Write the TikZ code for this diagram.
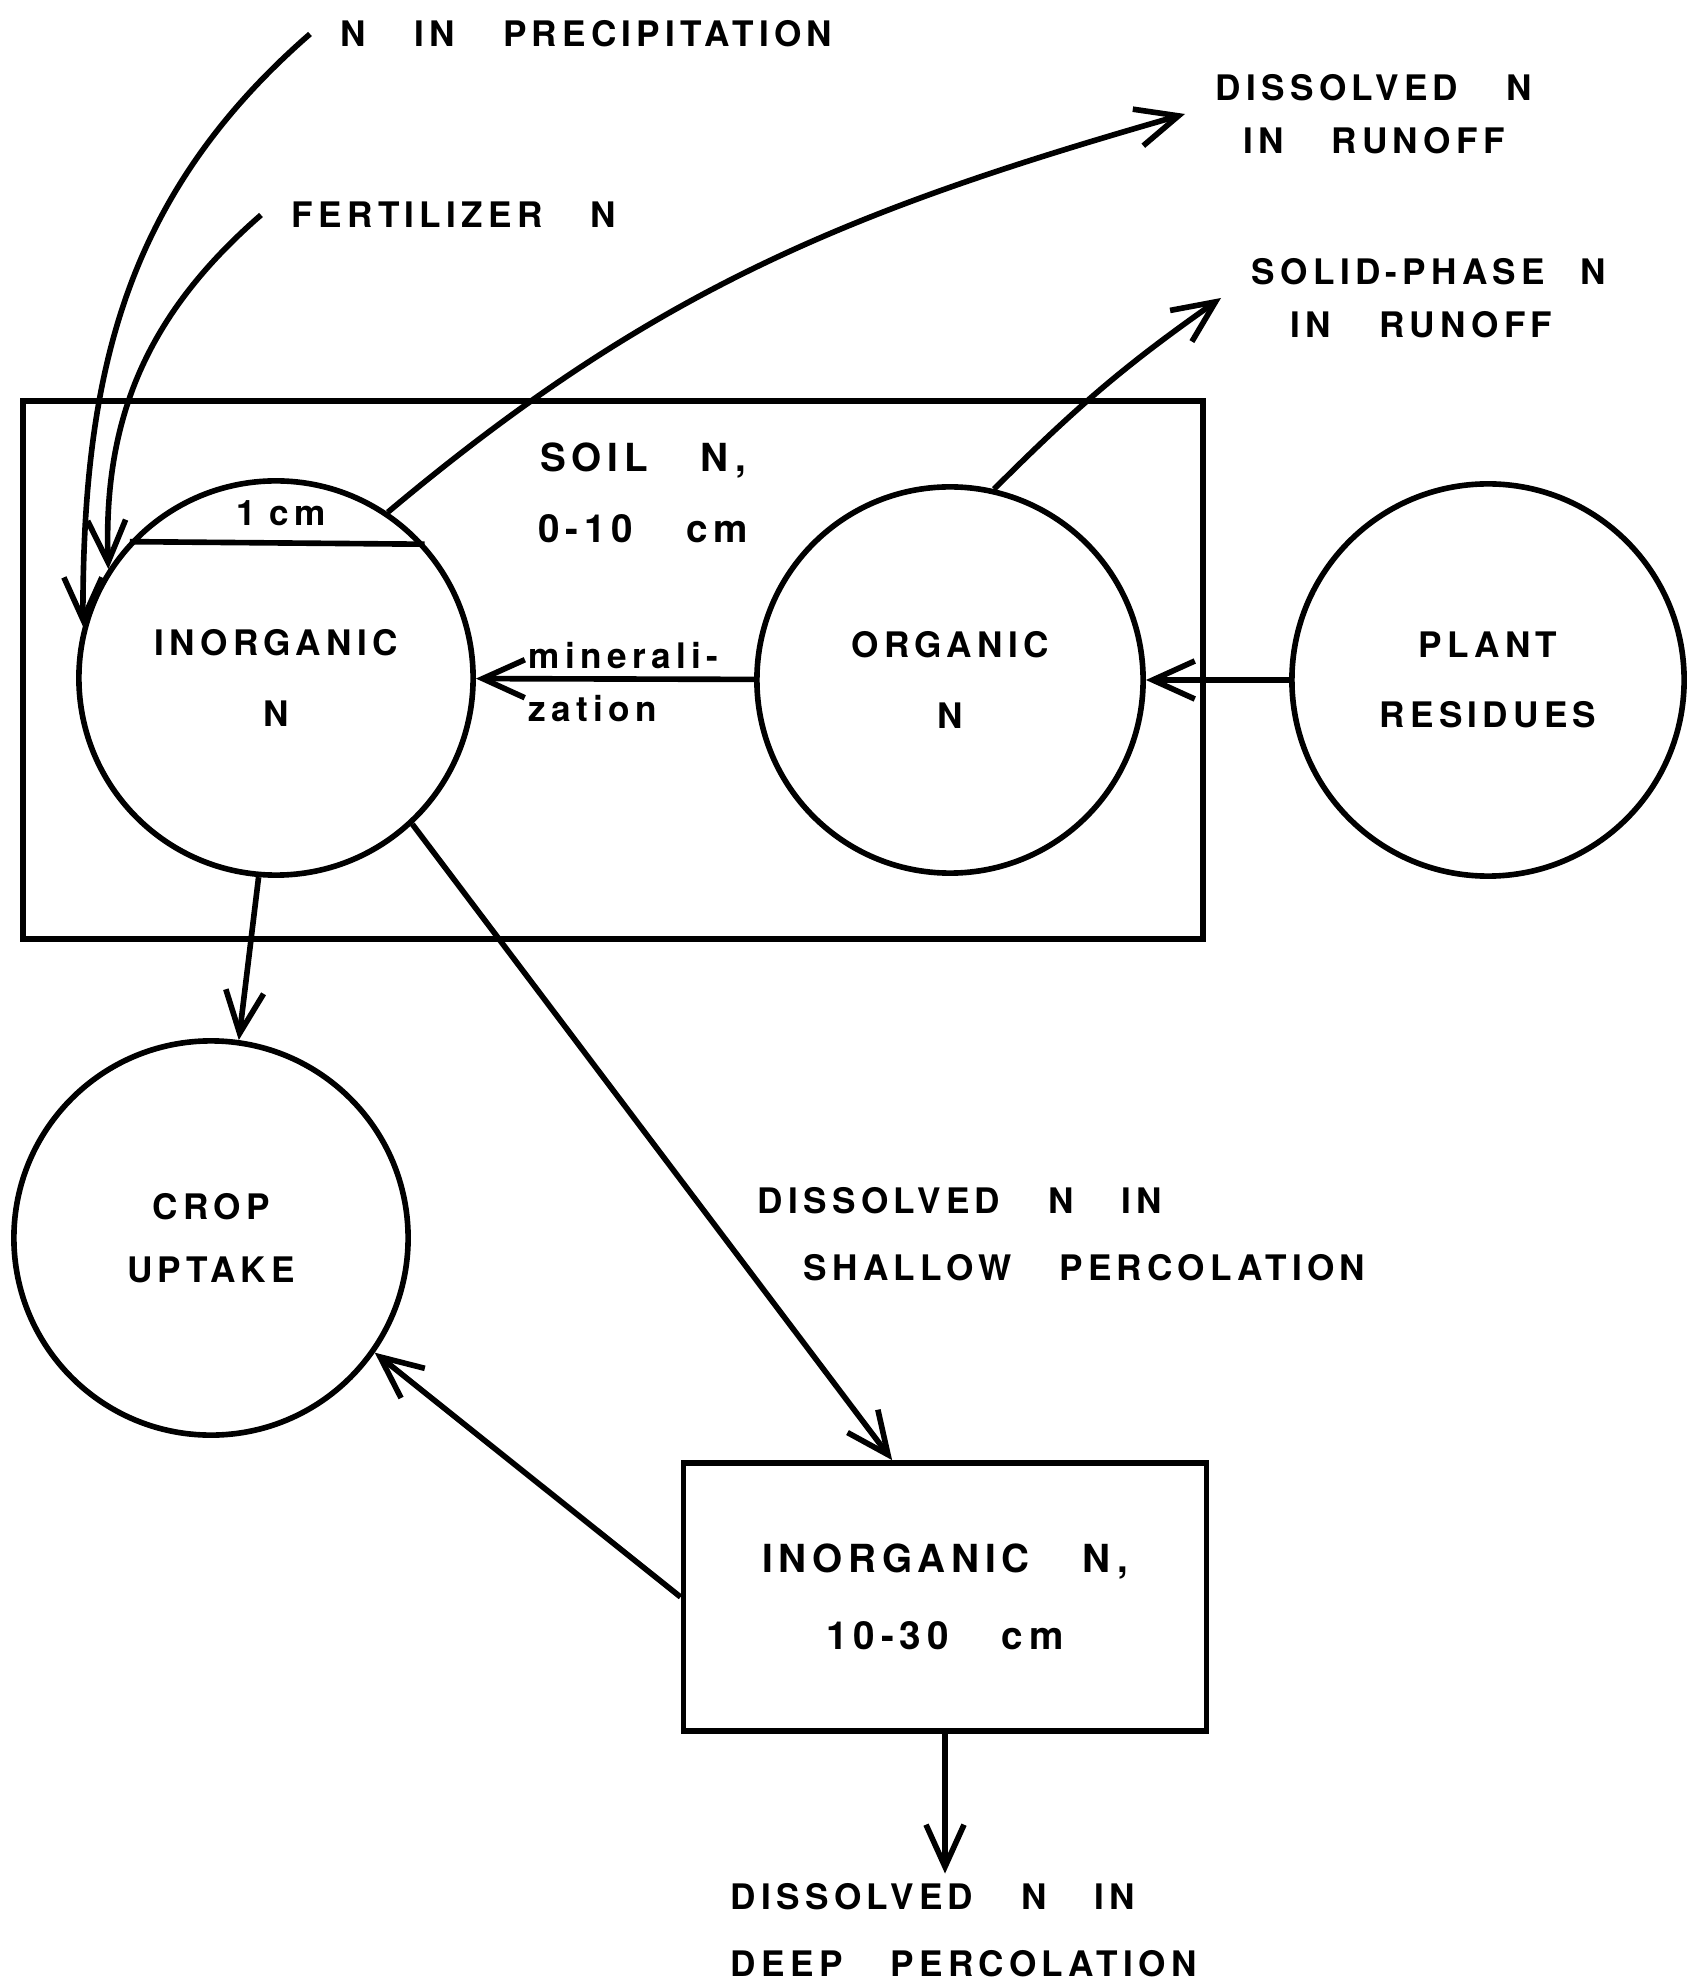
\documentclass[tikz,border=0pt]{standalone}
\usepackage{fontspec}
\newfontfamily\lettering{TeX Gyre Heros}[LetterSpace = 15, WordSpace = 3.2]
\usepackage{tikz}
\usetikzlibrary{arrows.meta,calc}

\begin{document}
\begin{tikzpicture}[x = 0.01cm, y = -0.01cm, line width = 1.6pt,
  >= {Straight Barb[length = 4.2mm, width = 3.8mm]},
  pool/.style = {draw, circle, inner sep = 0pt, align = center, font = \lettering\bfseries\fontsize{10}{20}\selectfont},
  store/.style = {draw, rectangle, inner sep = 0pt, align = center},
  lab/.style = {inner xsep = 8pt, inner ysep = 2pt, align = center, font = \lettering\bfseries\fontsize{10}{15}\selectfont}]
\useasboundingbox (0, 0) rectangle (1687, 1986);

\node[store, minimum width = 11.79cm, minimum height = 5.38cm] (soil) at (613, 670) {};
\node[lab, font = \lettering\bfseries\fontsize{11}{20}\selectfont] (soiltxt) at (643, 493) {SOIL N,\\0-10 cm};

\node[pool, minimum size = 3.94cm] (inorg) at (276, 678) {INORGANIC\\N};
\node[pool, minimum size = 3.86cm] (org) at (950, 680) {ORGANIC\\N};
\node[pool, minimum size = 3.92cm] (plant) at (1488, 680) {PLANT\\RESIDUES};
\node[pool, minimum size = 3.94cm, font = \lettering\bfseries\fontsize{10}{18}\selectfont] (crop) at (211, 1238) {CROP\\UPTAKE};
\node[store, minimum width = 5.23cm, minimum height = 2.68cm, font = \lettering\bfseries\fontsize{11}{22}\selectfont] (sub) at (945, 1597) {INORGANIC N,\\10-30 cm};

\node[lab] (onecm) at (281, 513) {1\hspace{4pt}cm};
\node[lab, anchor = west, align = left] (minz) at (498, 682) {minerali-\\zation};
\node[lab, anchor = west] (precip) at (310, 34) {N IN PRECIPITATION};
\node[lab, anchor = west] (fert) at (261, 215) {FERTILIZER N};
\node[lab, anchor = west] (runoff) at (1185, 114) {DISSOLVED N\\IN RUNOFF};
\node[lab, anchor = west, align = left] (solid) at (1221, 298) {SOLID-PHASE\quad N\\\hspace*{1.1em}IN RUNOFF};
\node[lab, anchor = west, align = left, font = \lettering\bfseries\fontsize{10}{19}\selectfont] (shallow) at (727, 1234) {DISSOLVED N IN\\\hspace*{1.3em}SHALLOW PERCOLATION};
\node[lab, anchor = west, align = left, font = \lettering\bfseries\fontsize{10}{19}\selectfont] (deep) at (700, 1930) {DISSOLVED N IN\\DEEP PERCOLATION};

\draw (inorg.137.5) -- (inorg.42.5);

\draw[->] (precip.west) to[out = 221, in = 90] (inorg.165);
\draw[->] (fert.west) to[out = 221, in = 92] (inorg.147);
\draw[->] (inorg.56) to[out = 40, in = 196] (runoff.west);
\draw[->] (org.77) to[out = 45, in = 215] (solid.west);
\draw[->] (org) -- (inorg);
\draw[->] (plant) -- (org);
\draw[->] (inorg.265) -- (crop.82);
\draw[->] (inorg.-47) -- ($(sub.north west)!0.4!(sub.north east)$);
\draw[->] (sub.west) -- (crop.-35);
\draw[->] (sub.south) -- (sub.south |- deep.north);

\end{tikzpicture}
\end{document}
